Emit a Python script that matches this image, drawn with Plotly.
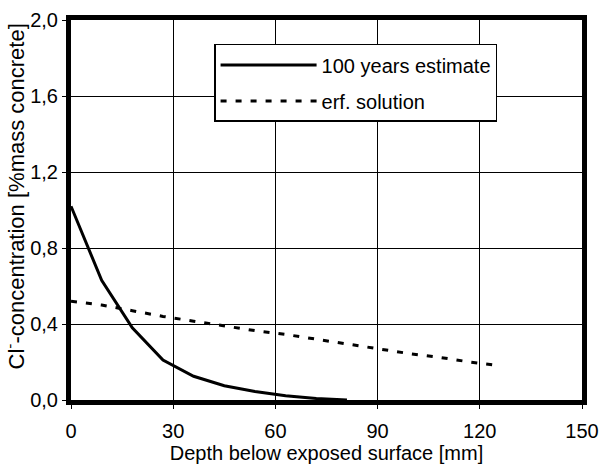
import plotly.graph_objects as go

depth_solid = [0, 9, 18, 27, 36, 45, 54, 63, 72, 81]
conc_solid = [1.02, 0.63, 0.38, 0.21, 0.125, 0.075, 0.045, 0.022, 0.008, 0.0]

depth_erf = [0, 9, 18, 27, 36, 45, 54, 63, 72, 81, 90, 99, 108, 117, 126]
conc_erf = [0.52, 0.50, 0.47, 0.44, 0.415, 0.39, 0.365, 0.345, 0.32, 0.295, 0.27, 0.245, 0.225, 0.20, 0.18]

x_ticks = [0, 30, 60, 90, 120, 150]
y_ticks = [0.0, 0.4, 0.8, 1.2, 1.6, 2.0]

font_family = "Liberation Sans, Arial, sans-serif"

fig = go.Figure()
fig.add_trace(go.Scatter(x=depth_solid, y=conc_solid, mode="lines",
                         name="100 years estimate", legendgroup="a",
                         line=dict(color="black", width=3)))
fig.add_trace(go.Scatter(x=depth_erf, y=conc_erf, mode="lines",
                         name="erf. solution", legendgroup="b",
                         line=dict(color="black", width=3, dash="6px,9px")))

fig.update_layout(
    width=603, height=465,
    margin=dict(l=71, r=21, t=20, b=65),
    paper_bgcolor="white", plot_bgcolor="white",
    separators=",.",
    font=dict(family=font_family, size=20, color="black"),
    showlegend=True,
    legend=dict(x=0.28, y=0.937, xanchor="left", yanchor="top",
                bgcolor="white", bordercolor="black", borderwidth=1.5,
                itemwidth=96, font=dict(size=20), tracegroupgap=7,
                traceorder="grouped", itemclick=False),
    xaxis=dict(range=[0, 150], tickvals=x_ticks, tickformat="d",
               showgrid=True, gridcolor="black", gridwidth=1,
               showline=True, linecolor="black", linewidth=5, mirror=True,
               ticks="outside", ticklen=4, tickcolor="black",
               ticklabelstandoff=5, zeroline=False, automargin=False,
               title=dict(text="Depth below exposed surface [mm]", standoff=0,
                          font=dict(size=20))),
    yaxis=dict(range=[0, 2.0], tickvals=y_ticks, tickformat=".1f",
               showgrid=True, gridcolor="black", gridwidth=1,
               showline=True, linecolor="black", linewidth=5, mirror=True,
               ticks="outside", ticklen=4, tickcolor="black",
               zeroline=False, automargin=False),
    annotations=[dict(text="Cl<sup>-</sup>-concentration [%mass concrete]",
                      xref="paper", yref="paper", x=-0.11, y=0.535,
                      xanchor="center", yanchor="middle", textangle=-90,
                      showarrow=False, font=dict(size=22))],
)

fig.write_html("out.html")
